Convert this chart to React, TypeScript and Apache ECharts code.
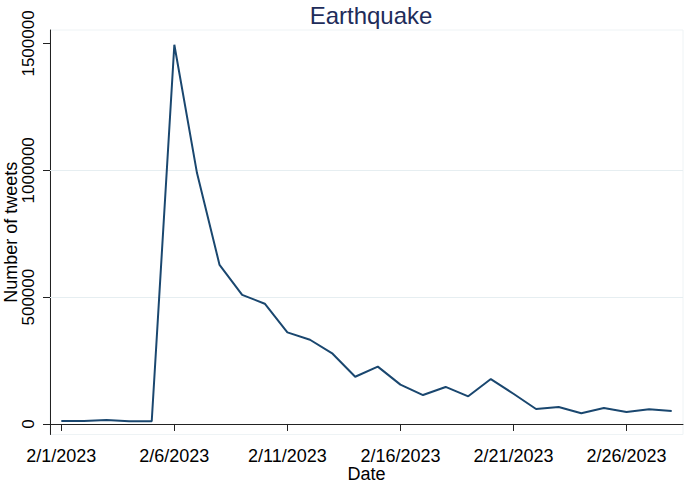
import React, { useEffect, useRef } from "react";
import * as echarts from "echarts";

const dates = [
  "2/1/2023", "2/2/2023", "2/3/2023", "2/4/2023", "2/5/2023", "2/6/2023", "2/7/2023",
  "2/8/2023", "2/9/2023", "2/10/2023", "2/11/2023", "2/12/2023", "2/13/2023", "2/14/2023",
  "2/15/2023", "2/16/2023", "2/17/2023", "2/18/2023", "2/19/2023", "2/20/2023", "2/21/2023",
  "2/22/2023", "2/23/2023", "2/24/2023", "2/25/2023", "2/26/2023", "2/27/2023", "2/28/2023",
];

const tweets = [
  12000, 12000, 16000, 10500, 10500, 1495000, 990000,
  627000, 509000, 474000, 361000, 332000, 277000, 186000,
  226000, 155000, 114000, 146000, 109000, 177000, 119000,
  59000, 67000, 42000, 63000, 47000, 58000, 51000,
];

const yTicks = [0, 500000, 1000000, 1500000];
const gridValues = [500000, 1000000];

const FONT = "Liberation Sans, Arial, sans-serif";

export default function App() {
  const ref = useRef<HTMLDivElement>(null);
  useEffect(() => {
    if (!ref.current) return;
    const chart = echarts.init(ref.current, undefined, { renderer: "svg" });
    chart.setOption({
      animation: false,
      backgroundColor: "#ffffff",
      title: {
        text: "Earthquake",
        left: 366,
        textAlign: "center",
        top: -2,
        textStyle: { fontFamily: FONT, fontSize: 24, fontWeight: "normal", color: "#1e2c5a" },
      },
      grid: {
        left: 50,
        right: 2,
        top: 30,
        bottom: 48.5,
        outerBoundsMode: "none",
        containLabel: false,
        show: true,
        borderColor: "#eef3f5",
        borderWidth: 1,
      },
      xAxis: {
        type: "category",
        data: dates,
        boundaryGap: true,
        name: "Date",
        nameLocation: "middle",
        nameGap: 30,
        nameMoveOverlap: false,
        nameTextStyle: { fontFamily: FONT, fontSize: 18, color: "#000" },
        axisLine: { show: true, lineStyle: { color: "#222", width: 1 } },
        axisTick: { show: true, interval: 4, alignWithLabel: true, length: 7, lineStyle: { color: "#222" } },
        axisLabel: { interval: 4, margin: 12, fontFamily: FONT, fontSize: 18, color: "#000" },
        splitLine: { show: false },
      },
      yAxis: {
        type: "value",
        min: -41500,
        max: 1553000,
        name: "Number of tweets",
        nameLocation: "middle",
        nameGap: 30,
        nameRotate: 90,
        nameMoveOverlap: false,
        nameTextStyle: { fontFamily: FONT, fontSize: 18, color: "#000" },
        axisLine: { show: true, lineStyle: { color: "#222", width: 1 } },
        axisTick: { show: true, length: 7, customValues: yTicks, lineStyle: { color: "#222" } },
        axisLabel: {
          rotate: 90,
          margin: 13,
          customValues: yTicks,
          formatter: (v: number) => String(v),
          fontFamily: FONT,
          fontSize: 17,
          color: "#000",
        },
        splitLine: { show: false },
      },
      series: [
        {
          type: "line",
          data: [],
          z: 1,
          markLine: {
            silent: true,
            z: 1,
            symbol: "none",
            label: { show: false },
            lineStyle: { color: "#e6eef1", width: 1, type: "solid" },
            data: gridValues.map((v) => ({ yAxis: v })),
          },
        },
        {
          type: "line",
          data: tweets,
          z: 3,
          showSymbol: false,
          symbol: "none",
          lineStyle: { color: "#1a476f", width: 2 },
        },
      ],
    });
    return () => chart.dispose();
  }, []);
  return (
    <div
      ref={ref}
      style={{ position: "absolute", left: 0, top: 0, width: 685, height: 483 }}
    />
  );
}
